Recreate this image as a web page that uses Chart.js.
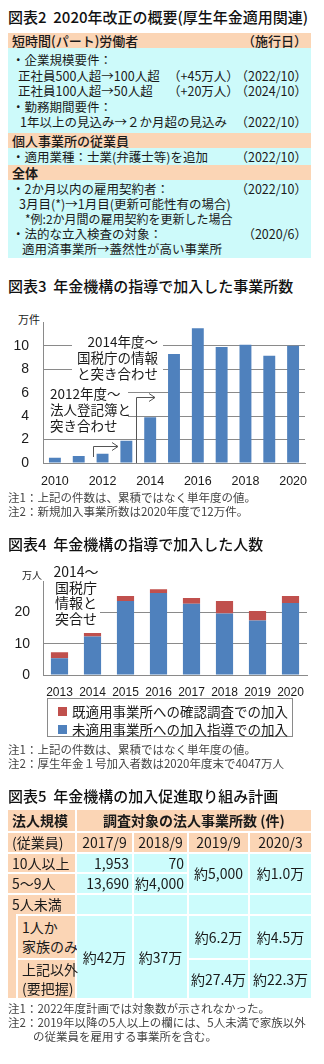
<!DOCTYPE html>
<html lang="ja">
<head>
<meta charset="utf-8">
<script src="https://cdn.jsdelivr.net/npm/chart.js"></script>
<style>
  body { margin:0; width:324px; height:1064px; background:#fff; position:relative; overflow:hidden;
         font-family:"Noto Sans CJK JP", sans-serif; color:#1a1a1a; }
  .abs { position:absolute; }
  .title { position:absolute; left:8px; font-size:15px; font-weight:500; line-height:20px; white-space:nowrap; color:#111; }
  .note { position:absolute; left:8px; font-size:11.5px; line-height:14px; color:#444; white-space:nowrap; }
  /* 図表2 */
  #t1 { position:absolute; left:8px; top:33px; width:303px; }
  #t1 .hd { background:#fbd5b5; height:15px; line-height:15px; font-size:13px; font-weight:500; padding-left:4px; position:relative; white-space:nowrap; }
  #t1 .cy { background:#cdfafa; box-sizing:border-box; font-size:12.5px; }
  #t1 .ln { position:relative; height:15.5px; line-height:15.5px; white-space:nowrap; padding-left:4px; }
  #t1 .r { position:absolute; right:4px; top:0; }
  #t1 .m { position:absolute; left:160px; top:0; }
  /* 図表5 */
  .c { position:absolute; box-sizing:border-box; display:flex; align-items:center; font-size:14px; white-space:nowrap; line-height:19px; }
  .o { background:#fbd5b5; }
  .b { background:#ccfcfc; }
  .ctr { justify-content:center; }
  .rt { justify-content:flex-end; padding-right:3px; }
  .lf { padding-left:4px; }
  .legend { position:absolute; left:47px; top:698px; width:246px; height:39px; box-sizing:border-box; border:1px solid #8a8a8a; font-size:13.5px; }
  .legend div { position:absolute; left:24px; line-height:18px; white-space:nowrap; }
  .legend span { position:absolute; left:-14px; top:4.5px; width:9px; height:9px; }
</style>
</head>
<body>

<div class="title" style="top:7px">図表2&nbsp; 2020年改正の概要(厚生年金適用関連)</div>
<div id="t1">
  <div class="hd">短時間(パート)労働者<span class="r">（施行日）</span></div>
  <div class="cy" style="height:85px;padding-top:4px">
    <div class="ln">・企業規模要件：</div>
    <div class="ln" style="padding-left:10px">正社員500人超→100人超<span class="m">（+45万人）</span><span class="r">（2022/10）</span></div>
    <div class="ln" style="padding-left:10px">正社員100人超→50人超<span class="m">（+20万人）</span><span class="r">（2024/10）</span></div>
    <div class="ln">・勤務期間要件：</div>
    <div class="ln" style="padding-left:12px">1年以上の見込み→２か月超の見込み<span class="r">（2022/10）</span></div>
  </div>
  <div class="hd">個人事業所の従業員</div>
  <div class="cy" style="height:17px">
    <div class="ln" style="height:17px;line-height:17px">・適用業種：士業(弁護士等)を追加<span class="r">（2022/10）</span></div>
  </div>
  <div class="hd" style="font-weight:700">全体</div>
  <div class="cy" style="height:78px;padding-top:0.5px">
    <div class="ln" style="height:15px;line-height:15px">・2か月以内の雇用契約者：<span class="r">（2022/10）</span></div>
    <div class="ln" style="height:15px;line-height:15px;padding-left:11px">3月目(*)→1月目(更新可能性有の場合)</div>
    <div class="ln" style="height:15px;line-height:15px;padding-left:17px;font-size:12px">*例:2か月間の雇用契約を更新した場合</div>
    <div class="ln" style="height:15px;line-height:15px">・法的な立入検査の対象：<span class="r">（2020/6）</span></div>
    <div class="ln" style="height:15px;line-height:15px;padding-left:14px">適用済事業所→蓋然性が高い事業所</div>
  </div>
</div>

<div class="title" style="top:276px">図表3&nbsp; 年金機構の指導で加入した事業所数</div>
<div class="abs" style="left:18px;top:312px;font-size:11px;line-height:14px">万件</div>
<div class="abs" style="left:0;top:300px;width:324px;height:190px"><canvas id="chartA"></canvas></div>
<div class="note" style="top:490px">注1：上記の件数は、累積ではなく単年度の値。</div>
<div class="note" style="top:504px">注2：新規加入事業所数は2020年度で12万件。</div>

<div class="title" style="top:534px">図表4&nbsp; 年金機構の指導で加入した人数</div>
<div class="abs" style="left:22px;top:568px;font-size:10px;line-height:14px">万人</div>
<div class="abs" style="left:0;top:560px;width:324px;height:140px"><canvas id="chartB"></canvas></div>
<div class="legend">
  <div style="top:3px"><span style="background:#c0504d"></span>既適用事業所への確認調査での加入</div>
  <div style="top:21px"><span style="background:#4f81bd"></span>未適用事業所への加入指導での加入</div>
</div>
<div class="note" style="top:742px">注1：上記の件数は、累積ではなく単年度の値。</div>
<div class="note" style="top:756px">注2：厚生年金１号加入者数は2020年度末で4047万人</div>

<div class="title" style="top:786px">図表5&nbsp; 年金機構の加入促進取り組み計画</div>
<!-- row 1 -->
<div class="c o lf" style="left:8px;top:810px;width:67px;height:21px;font-weight:700">法人規模</div>
<div class="c o ctr" style="left:77px;top:810px;width:234px;height:21px;font-weight:700">調査対象の法人事業所数 (件)</div>
<!-- row 2 -->
<div class="c o lf" style="left:8px;top:833px;width:67px;height:19px">(従業員)</div>
<div class="c o ctr" style="left:77px;top:833px;width:55px;height:19px">2017/9</div>
<div class="c o ctr" style="left:134px;top:833px;width:53px;height:19px">2018/9</div>
<div class="c o ctr" style="left:189px;top:833px;width:59px;height:19px">2019/9</div>
<div class="c o ctr" style="left:250px;top:833px;width:61px;height:19px">2020/3</div>
<!-- row 3-4 -->
<div class="c o lf" style="left:8px;top:854px;width:67px;height:18px">10人以上</div>
<div class="c b rt" style="left:77px;top:854px;width:55px;height:18px">1,953</div>
<div class="c b rt" style="left:134px;top:854px;width:53px;height:18px">70</div>
<div class="c b ctr" style="left:189px;top:854px;width:59px;height:39px">約5,000</div>
<div class="c b ctr" style="left:250px;top:854px;width:61px;height:39px">約1.0万</div>
<div class="c o lf" style="left:8px;top:874px;width:67px;height:19px">5～9人</div>
<div class="c b rt" style="left:77px;top:874px;width:55px;height:19px">13,690</div>
<div class="c b rt" style="left:134px;top:874px;width:53px;height:19px">約4,000</div>
<!-- row 5 -->
<div class="c o" style="left:8px;top:895px;width:8px;height:103px"></div>
<div class="c o lf" style="left:8px;top:895px;width:67px;height:19px">5人未満</div>
<div class="c b" style="left:77px;top:895px;width:55px;height:19px"></div>
<div class="c b" style="left:134px;top:895px;width:53px;height:19px"></div>
<div class="c b" style="left:189px;top:895px;width:59px;height:19px"></div>
<div class="c b" style="left:250px;top:895px;width:61px;height:19px"></div>
<!-- row 6-7 -->
<div class="c o lf" style="left:18px;top:916px;width:57px;height:42px">1人か<br>家族のみ</div>
<div class="c b ctr" style="left:77px;top:916px;width:55px;height:82px">約42万</div>
<div class="c b ctr" style="left:134px;top:916px;width:53px;height:82px">約37万</div>
<div class="c b ctr" style="left:189px;top:916px;width:59px;height:42px">約6.2万</div>
<div class="c b ctr" style="left:250px;top:916px;width:61px;height:42px">約4.5万</div>
<div class="c o lf" style="left:18px;top:960px;width:57px;height:38px">上記以外<br>(要把握)</div>
<div class="c b ctr" style="left:189px;top:960px;width:59px;height:38px">約27.4万</div>
<div class="c b ctr" style="left:250px;top:960px;width:61px;height:38px">約22.3万</div>
<div class="note" style="top:1001px">注1：2022年度計画では対象数が示されなかった。</div>
<div class="note" style="top:1015px">注2：2019年以降の5人以上の欄には、5人未満で家族以外</div>
<div class="note" style="top:1029px;left:33px">の従業員を雇用する事業所を含む。</div>

<script>
// 図表3 年金機構の指導で加入した事業所数（万件）
const yearsA = ['2010', '2011', '2012', '2013', '2014', '2015', '2016', '2017', '2018', '2019', '2020'];
const officesA = [0.45, 0.6, 0.8, 1.9, 3.9, 9.3, 11.5, 9.9, 10.1, 9.15, 10.0];
const ticksA = [0, 2, 4, 6, 8, 10];

// 図表4 年金機構の指導で加入した人数（万人）
const yearsB = ['2013', '2014', '2015', '2016', '2017', '2018', '2019', '2020'];
const guidedB = [5.4, 12.3, 23.7, 26.3, 22.8, 19.7, 17.5, 23.1];   // 未適用事業所への加入指導
const checkedB = [1.9, 1.2, 1.6, 1.2, 1.9, 4.0, 3.0, 2.2];         // 既適用事業所への確認調査
const ticksB = [0, 10, 20];

const BLUE = '#4f81bd';
const RED = '#c0504d';
const GRID = '#8a8a8a';
const JP = '"Noto Sans CJK JP", sans-serif';

Chart.defaults.color = '#1a1a1a';
Chart.defaults.font.family = '"Liberation Sans", Arial, sans-serif';

// 白抜きの注記と矢印
const notesPlugin = {
    id: 'notes',
    beforeDatasetsDraw(chart, args, opts) {
        const ctx = chart.ctx;
        ctx.save();
        (opts.boxes || []).forEach(b => {
            ctx.fillStyle = '#fff';
            ctx.fillRect(b.x, b.y, b.w, b.h);
            ctx.fillStyle = '#1a1a1a';
            ctx.font = b.font;
            ctx.textAlign = b.align;
            ctx.textBaseline = 'middle';
            b.lines.forEach((t, i) => ctx.fillText(t, b.tx, b.ty + i * b.lh));
        });
        (opts.arrows || []).forEach(pts => {
            ctx.strokeStyle = '#555';
            ctx.lineWidth = 1;
            ctx.beginPath();
            ctx.moveTo(pts[0][0], pts[0][1]);
            for (let i = 1; i < pts.length; i++) ctx.lineTo(pts[i][0], pts[i][1]);
            const end = pts[pts.length - 1];
            ctx.moveTo(end[0] - 6, end[1] - 4);
            ctx.lineTo(end[0], end[1]);
            ctx.lineTo(end[0] - 6, end[1] + 4);
            ctx.stroke();
        });
        ctx.restore();
    }
};

function createOfficeChart() {
    const ctx = document.getElementById('chartA').getContext('2d');
    new Chart(ctx, {
        type: 'bar',
        data: {
            labels: yearsA,
            datasets: [{
                data: officesA,
                backgroundColor: BLUE,
                categoryPercentage: 1,
                barPercentage: 0.5
            }]
        },
        options: {
            responsive: true,
            maintainAspectRatio: false,
            animation: false,
            layout: { padding: { top: 8, right: 19, left: 0, bottom: 0 } },
            plugins: {
                legend: { display: false },
                tooltip: { enabled: false },
                notes: {
                    boxes: [
                        { x: 72, y: 33, w: 91, h: 48, tx: 158, ty: 42, lh: 16, align: 'right',
                          font: '13.5px ' + JP, lines: ['2014年度～', '国税庁の情報', 'と突き合わせ'] },
                        { x: 44, y: 85, w: 84, h: 51, tx: 50, ty: 94, lh: 16, align: 'left',
                          font: '13.5px ' + JP, lines: ['2012年度～', '法人登記簿と', '突き合わせ'] }
                    ],
                    arrows: [
                        [[93.5, 157], [93.5, 146.5], [118, 146.5]],
                        [[136.5, 163], [136.5, 97.5], [155, 97.5]]
                    ]
                }
            },
            scales: {
                x: {
                    grid: { display: false },
                    border: { display: true, color: GRID },
                    ticks: {
                        autoSkip: false,
                        maxRotation: 0,
                        padding: 3,
                        font: { size: 12.5 },
                        callback: function(value, index) {
                            return index % 2 === 0 ? yearsA[index] : '';
                        }
                    },
                    afterFit: function(scale) { scale.height = 27; }
                },
                y: {
                    min: 0,
                    max: 12,
                    afterBuildTicks: function(axis) {
                        axis.ticks = ticksA.map(v => ({ value: v }));
                    },
                    grid: { color: GRID, drawTicks: false },
                    border: { display: true, color: GRID },
                    ticks: { padding: 14, font: { size: 14 } },
                    afterFit: function(scale) { scale.width = 43; }
                }
            }
        },
        plugins: [notesPlugin]
    });
}

function createPeopleChart() {
    const ctx = document.getElementById('chartB').getContext('2d');
    new Chart(ctx, {
        type: 'bar',
        data: {
            labels: yearsB,
            datasets: [{
                label: '未適用事業所への加入指導での加入',
                data: guidedB,
                backgroundColor: BLUE,
                categoryPercentage: 1,
                barPercentage: 0.52
            }, {
                label: '既適用事業所への確認調査での加入',
                data: checkedB,
                backgroundColor: RED,
                categoryPercentage: 1,
                barPercentage: 0.52
            }]
        },
        options: {
            responsive: true,
            maintainAspectRatio: false,
            animation: false,
            layout: { padding: { top: 7, right: 17, left: 0, bottom: 0 } },
            plugins: {
                legend: { display: false },
                tooltip: { enabled: false },
                notes: {
                    boxes: [
                        { x: 44, y: 5, w: 56, h: 61, tx: 76, ty: 12, lh: 15.5, align: 'center',
                          font: '14px ' + JP, lines: ['2014～', '国税庁', '情報と', '突合せ'] }
                    ]
                }
            },
            scales: {
                x: {
                    stacked: true,
                    grid: { display: false },
                    border: { display: true, color: GRID },
                    ticks: { autoSkip: false, maxRotation: 0, padding: 2, font: { size: 12 } },
                    afterFit: function(scale) { scale.height = 25; }
                },
                y: {
                    stacked: true,
                    min: 0,
                    max: 30,
                    afterBuildTicks: function(axis) {
                        axis.ticks = ticksB.map(v => ({ value: v }));
                    },
                    grid: { color: GRID, drawTicks: false },
                    border: { display: true, color: GRID },
                    ticks: { padding: 13, font: { size: 14 } },
                    afterFit: function(scale) { scale.width = 43; }
                }
            }
        },
        plugins: [notesPlugin]
    });
}

createOfficeChart();
createPeopleChart();
</script>
</body>
</html>
